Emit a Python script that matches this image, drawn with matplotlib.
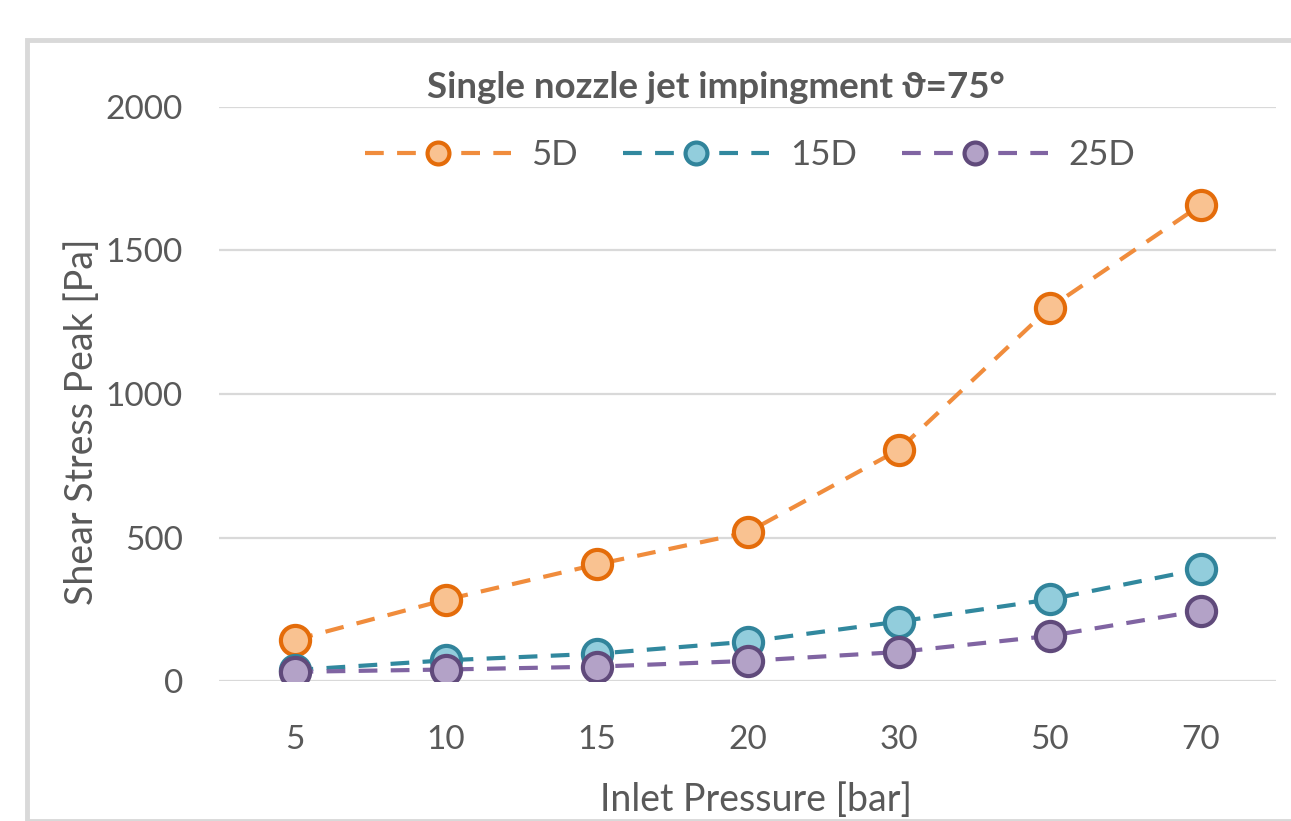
import matplotlib
matplotlib.use("Agg")
import matplotlib.pyplot as plt
from matplotlib.patches import Rectangle

plt.rcParams['font.family'] = ['Lato', 'DejaVu Sans']

# data
pressures = ["5", "10", "15", "20", "30", "50", "70"]
d5 = [143, 283, 406, 518, 805, 1300, 1658]
d15 = [38, 72, 95, 137, 207, 284, 390]
d25 = [32, 40, 50, 70, 101, 157, 245]
series_names = ["5D", "15D", "25D"]

styles = [  # line colour, marker face, marker edge
    ("#F08C3C", "#F9C291", "#E46C0A"),
    ("#31889E", "#92CDDC", "#31849B"),
    ("#8064A2", "#B3A2C7", "#604A7B"),
]
grey_txt = "#595959"
grid_col = "#D9D9D9"

fig = plt.figure(figsize=(12.91, 8.21), dpi=100)
fig.patches.append(Rectangle((27/1291, 0), 1.2, 1 - 40/821, transform=fig.transFigure,
                             fill=False, edgecolor=grid_col, linewidth=3.5))
ax = fig.add_axes([219/1291, 1 - 681/821, 1057/1291, 574/821])

x = list(range(len(pressures)))
for vals, name, (lc, fc, ec) in zip([d5, d15, d25], series_names, styles):
    ax.plot(x, vals, color=lc, linestyle=(0, (4.5, 3.2)), linewidth=3.0,
            marker='o', markersize=21, markerfacecolor=fc, markeredgecolor=ec,
            markeredgewidth=3.0, label=name, zorder=3)

ax.set_xlim(-0.5, 6.5)
ax.set_ylim(0, 2000)
ax.set_yticks([0, 500, 1000, 1500, 2000])
ax.set_xticks(x)
ax.set_xticklabels(pressures)
ax.grid(axis='y', color=grid_col, linewidth=1.6, zorder=0)
ax.set_axisbelow(True)
for s in ax.spines.values():
    s.set_visible(False)
ax.tick_params(length=0, labelsize=24, colors=grey_txt)
ax.tick_params(axis='y', pad=26)
ax.tick_params(axis='x', pad=32)

ax.set_ylabel("Shear Stress Peak [Pa]", fontsize=27, color=grey_txt)
ax.yaxis.set_label_coords((100 - 219)/1057, (681 - 422)/574)

fig.text(756/1291, 3/821, "Inlet Pressure [bar]", ha='center', va='bottom',
         fontsize=27, color=grey_txt)

fig.text(716/1291, 1 - 88/821, "Single nozzle jet impingment ϑ=75°", ha='center', va='center',
         fontsize=26.5, fontweight='bold', color=grey_txt)

ax.legend(loc='center', bbox_to_anchor=(750/1291, 1 - 155/821), bbox_transform=fig.transFigure,
          ncol=3, frameon=False, fontsize=25, handlelength=4.2, handletextpad=0.6,
          columnspacing=1.3, markerscale=0.75, labelcolor=grey_txt)

fig.savefig("out.png", dpi=100)
